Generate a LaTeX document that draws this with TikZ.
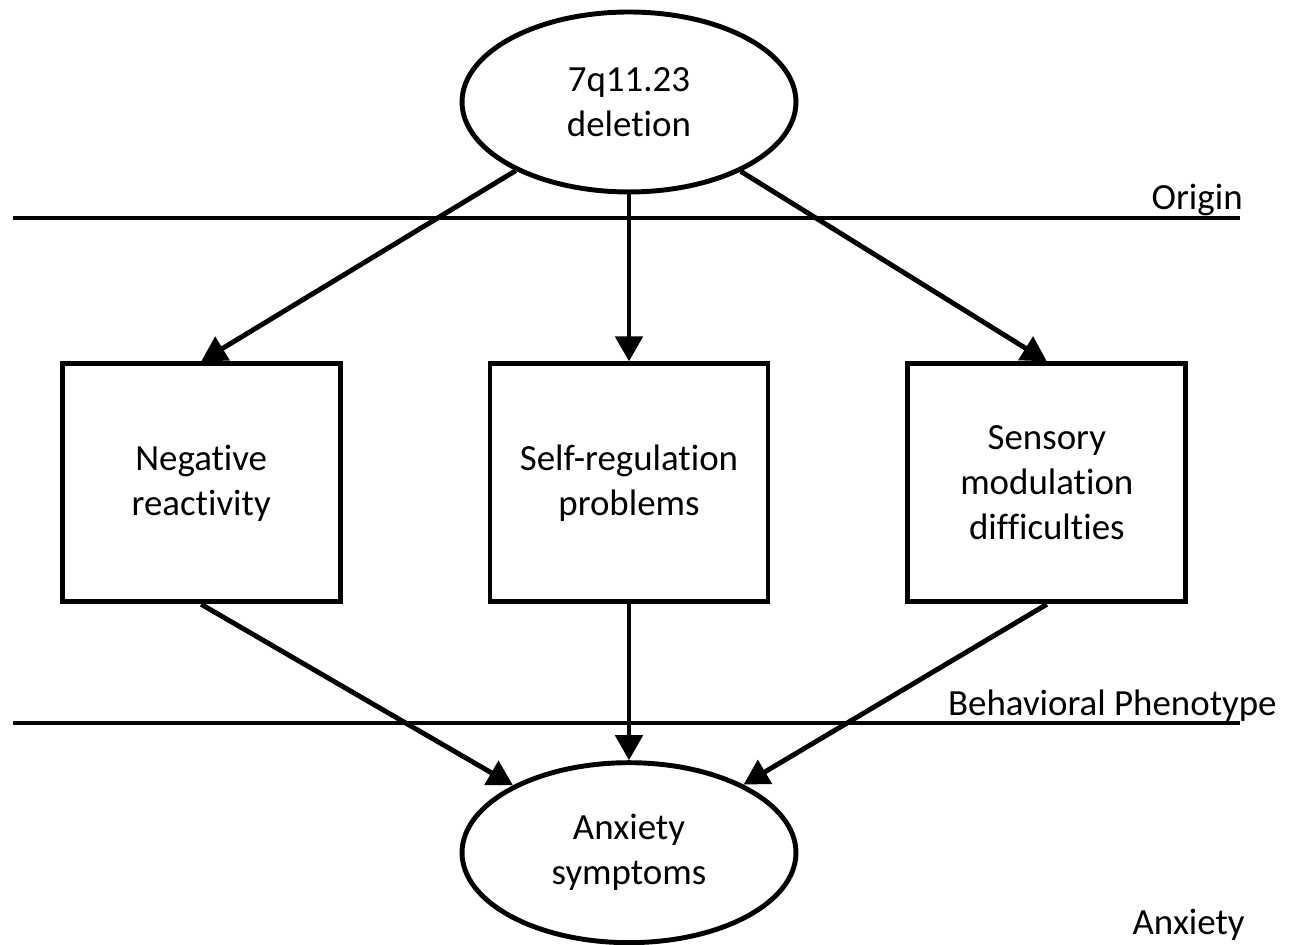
\documentclass[tikz,border=0pt]{standalone}
\usepackage{fontspec}
\setmainfont{Carlito}[Ligatures=NoCommon]
\usetikzlibrary{positioning,shapes.geometric,arrows.meta}

\begin{document}
\begin{tikzpicture}[x=0.02cm, y=0.02cm,
	font=\fontsize{21}{25.6}\selectfont,
	rb/.style={rectangle, draw, line width=2.8pt, align=center, minimum width=5.56cm, minimum height=4.76cm, inner sep=0pt},
	el/.style={ellipse, draw, line width=2.8pt, align=center, minimum width=6.68cm, minimum height=3.6cm, inner sep=0pt},
	ar/.style={-{Triangle[length=0.5cm, width=0.54cm]}, line width=2.8pt},
	sep/.style={line width=2.8pt},
	lb/.style={anchor=base east, inner sep=0pt}
	]
	
	\useasboundingbox (0,0) rectangle (1298,945);
	
	\node[el] (del) at (629,843) {7q11.23\\deletion};
	\node[rb] (self) [below=3.34cm of del] {Self-regulation\\problems};
	\node[rb] (neg) [left=2.9cm of self] {Negative\\reactivity};
	\node[rb] (sens) [right=2.7cm of self] {Sensory\\modulation\\difficulties};
	\node[el] (anx) [below=3.12cm of self] {Anxiety\\symptoms};
	
	% level lines
	\coordinate (o1) at (13,727);
	\coordinate (o2) at (1240,727);
	\coordinate (b1) at (13,222);
	\coordinate (b2) at (1240,222);
	\draw [sep] (o1) -- (o2);
	\draw [sep] (b1) -- (b2);
	
	\node[lb] (org) at (1243,735) {Origin};
	\node[lb] (beh) at (1277,229) {Behavioral Phenotype};
	\node[lb] (anxl) at (1245,10) {Anxiety};
	
	\draw [ar] (del) to (neg.north);
	\draw [ar] (del) to (self.north);
	\draw [ar] (del) to (sens.north);
	
	\draw [ar] (neg.south) to (anx);
	\draw [ar] (self.south) to (anx);
	\draw [ar] (sens.south) to (anx);
	
\end{tikzpicture}
\end{document}
